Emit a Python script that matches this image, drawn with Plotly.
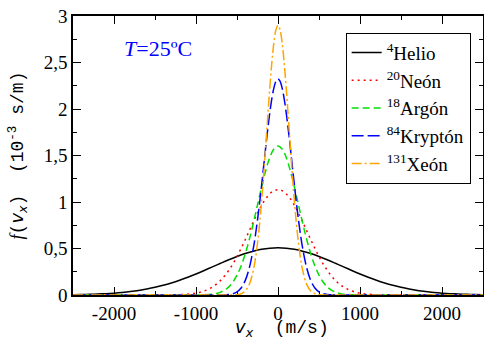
import plotly.graph_objects as go

# ---------------- data (f in 10^-3 s/m) ----------------
he_v = list(range(-2500, 2501, 100))
he_f = [0.0033, 0.0049, 0.0071, 0.0102, 0.0144, 0.0201, 0.0275, 0.0371, 0.0492, 0.0643,
        0.0825, 0.1043, 0.1297, 0.1586, 0.1910, 0.2263, 0.2638, 0.3025, 0.3414, 0.3792,
        0.4144, 0.4456, 0.4715, 0.4909, 0.5029, 0.5070, 0.5029, 0.4909, 0.4715, 0.4456,
        0.4144, 0.3792, 0.3414, 0.3025, 0.2638, 0.2263, 0.1910, 0.1586, 0.1297, 0.1043,
        0.0825, 0.0643, 0.0492, 0.0371, 0.0275, 0.0201, 0.0144, 0.0102, 0.0071, 0.0049,
        0.0033]

ne_v = [-2500, -1500, -1300, -1200, -1100, -1000, -950, -900, -850, -800, -750, -700,
        -650, -600, -550, -500, -450, -400, -350, -300, -250, -200, -150, -100, -50,
        0, 50, 100, 150, 200, 250, 300, 350, 400, 450, 500, 550, 600, 650, 700, 750,
        800, 850, 900, 950, 1000, 1100, 1200, 1300, 1500, 2500]
ne_f = [0.0, 0.0001, 0.0012, 0.0034, 0.0086, 0.0201, 0.0297, 0.0432, 0.0615, 0.0857,
        0.1172, 0.1570, 0.2062, 0.2653, 0.3345, 0.4134, 0.5006, 0.5943, 0.6913, 0.7881,
        0.8806, 0.9642, 1.0347, 1.0882, 1.1216, 1.1330, 1.1216, 1.0882, 1.0347, 0.9642,
        0.8806, 0.7881, 0.6913, 0.5943, 0.5006, 0.4134, 0.3345, 0.2653, 0.2062, 0.1570,
        0.1172, 0.0857, 0.0615, 0.0432, 0.0297, 0.0201, 0.0086, 0.0034, 0.0012, 0.0001,
        0.0]

ar_v = [-2500, -1200, -1000, -900, -800, -750, -700, -650, -600, -550, -500, -450,
        -400, -350, -300, -250, -200, -150, -100, -50, 0, 50, 100, 150, 200, 250, 300,
        350, 400, 450, 500, 550, 600, 650, 700, 750, 800, 900, 1000, 1200, 2500]
ar_f = [0.0, 0.0, 0.0005, 0.0023, 0.0092, 0.0171, 0.0307, 0.0530, 0.0877, 0.1396,
        0.2132, 0.3127, 0.4407, 0.5964, 0.7754, 0.9680, 1.1607, 1.3368, 1.4787, 1.5710,
        1.6030, 1.5710, 1.4787, 1.3368, 1.1607, 0.9680, 0.7754, 0.5964, 0.4407, 0.3127,
        0.2132, 0.1396, 0.0877, 0.0530, 0.0307, 0.0171, 0.0092, 0.0023, 0.0005, 0.0,
        0.0]

kr_v = [-2500, -800, -700, -600, -550, -500, -450, -400, -350, -300, -275, -250, -225,
        -200, -175, -150, -125, -100, -75, -50, -25, 0, 25, 50, 75, 100, 125, 150, 175,
        200, 225, 250, 275, 300, 350, 400, 450, 500, 550, 600, 700, 800, 2500]
kr_f = [0.0, 0.0, 0.0006, 0.0052, 0.0138, 0.0336, 0.0752, 0.1545, 0.2917, 0.5057,
        0.6451, 0.8058, 0.9854, 1.1797, 1.3828, 1.5867, 1.7828, 1.9610, 2.1119, 2.2267,
        2.2985, 2.3230, 2.2985, 2.2267, 2.1119, 1.9610, 1.7828, 1.5867, 1.3828, 1.1797,
        0.9854, 0.8058, 0.6451, 0.5057, 0.2917, 0.1545, 0.0752, 0.0336, 0.0138, 0.0052,
        0.0006, 0.0, 0.0]

xe_v = [-2500, -700, -600, -500, -450, -400, -350, -300, -275, -250, -225, -200, -175,
        -150, -125, -100, -75, -50, -25, 0, 25, 50, 75, 100, 125, 150, 175, 200, 225,
        250, 275, 300, 350, 400, 450, 500, 600, 700, 2500]
xe_f = [0.0, 0.0, 0.0002, 0.0039, 0.0138, 0.0424, 0.1141, 0.2693, 0.3936, 0.5566,
        0.7617, 1.0084, 1.2917, 1.6008, 1.9195, 2.2271, 2.4997, 2.7147, 2.8525, 2.9000,
        2.8525, 2.7147, 2.4997, 2.2271, 1.9195, 1.6008, 1.2917, 1.0084, 0.7617, 0.5566,
        0.3936, 0.2693, 0.1141, 0.0424, 0.0138, 0.0039, 0.0002, 0.0, 0.0]

series_names = ["<sup>4</sup>Helio", "<sup>20</sup>Neón", "<sup>18</sup>Argón",
                "<sup>84</sup>Kryptón", "<sup>131</sup>Xeón"]
x_ticks = [-2000, -1000, 0, 1000, 2000]
x_ticktext = ["-2000", "-1000", "0", "1000", "2000"]
y_ticks = [0, 0.5, 1, 1.5, 2, 2.5, 3]
y_ticktext = ["0", "0,5", "1", "1,5", "2", "2,5", "3"]

# ---------------- styles ----------------
SERIF = "Liberation Serif, Times New Roman, serif"
MONO = "Liberation Mono, Courier New, monospace"
colors = ["#000000", "#ff0000", "#00e000", "#0000ff", "#ffa500"]
dashes = ["solid", "2px,4px", "7px,4px", "12px,4px", "10px,3px,2px,3px"]

fig = go.Figure()
for xs, ys, nm, c, d in zip([he_v, ne_v, ar_v, kr_v, xe_v],
                            [he_f, ne_f, ar_f, kr_f, xe_f],
                            series_names, colors, dashes):
    fig.add_trace(go.Scatter(x=xs, y=ys, mode="lines", name=nm,
                             line=dict(color=c, width=1.5, dash=d, shape="spline",
                                       smoothing=1)))

axis_common = dict(showline=True, linecolor="black", linewidth=1.5, mirror="ticks",
                   ticks="inside", ticklen=8, tickwidth=1.2, tickcolor="black",
                   showgrid=False, zeroline=False, layer="below traces",
                   automargin=False,
                   tickfont=dict(family=SERIF, size=19, color="black"))

fig.update_xaxes(range=[-2500, 2500], tickvals=x_ticks, ticktext=x_ticktext,
                 minor=dict(dtick=500, tick0=0, ticks="inside", ticklen=4,
                            tickwidth=1, tickcolor="black"),
                 **axis_common)
fig.update_yaxes(range=[0, 3], tickvals=y_ticks, ticktext=y_ticktext,
                 minor=dict(dtick=0.25, tick0=0, ticks="inside", ticklen=4,
                            tickwidth=1, tickcolor="black"),
                 title=dict(text='<span style="font-family:Liberation Serif"><i>f</i></span>(<span style="font-family:DejaVu Sans"><i>v</i><sub><i>x</i></sub></span>)  (10<sup>-3</sup> s/m)',
                            font=dict(family=MONO, size=18, color="black")),
                 **axis_common)

# x-axis title (placed as an annotation for exact vertical position)
fig.add_annotation(text='<span style="font-family:DejaVu Sans"><i>v</i><sub><i>x</i></sub></span>  (m/s)',
                   xref="paper", yref="paper", x=0.51, y=-0.12,
                   xanchor="center", yanchor="middle", showarrow=False,
                   font=dict(family=MONO, size=18, color="black"))

fig.add_annotation(text="<i>T</i>=25ºC", xref="paper", yref="paper", x=0.12, y=0.885,
                   xanchor="left", yanchor="middle", showarrow=False,
                   font=dict(family=SERIF, size=22, color="#0000ff"))

fig.update_layout(width=484, height=340, margin=dict(l=73, r=1, t=16, b=45),
                  plot_bgcolor="white", paper_bgcolor="white",
                  showlegend=True,
                  legend=dict(x=0.665, y=0.94, xanchor="left", yanchor="top",
                              bgcolor="white", bordercolor="black", borderwidth=1,
                              font=dict(family=SERIF, size=19, color="black"),
                              itemwidth=30, tracegroupgap=0))

fig.write_html("out.html")
